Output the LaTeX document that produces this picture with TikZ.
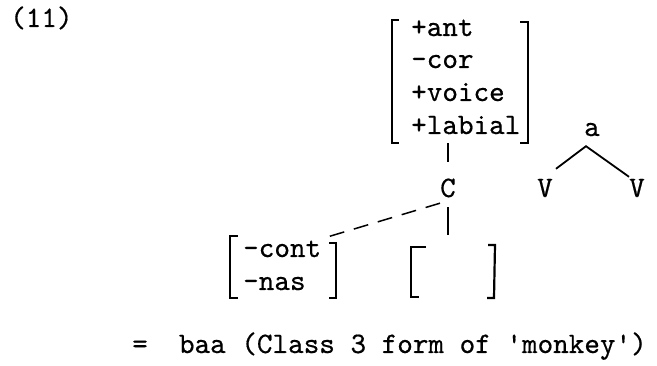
\documentclass[tikz,border=0pt]{standalone}
\usepackage{fontspec}
\newfontfamily\tw{lmmono10-regular}[Extension=.otf, FakeBold=0.5, Ligatures=TeXOff]
\usetikzlibrary{fit}
\begin{document}
\begin{tikzpicture}[x=1pt,y=-1pt,
  txt/.style={inner sep=0pt, font=\tw\fontsize{29.7}{34}\selectfont,
              text height=18pt, text depth=6pt},
  brak/.style={line width=2.2pt, line join=miter},
  branch/.style={line width=1.8pt},
  assoc/.style={line width=1.5pt, dash pattern=on 15pt off 10pt},
  box/.style={inner sep=0pt}]
\fill[white] (0,0) rectangle (657,366);
\useasboundingbox (0,0) rectangle (657,366);

% example number
\node[txt, anchor=base west] (num) at (10,27) {(11)};

% feature matrix of the consonant
\node[txt, anchor=base west] (ant)    at (411,36)  {+ant};
\node[txt, anchor=base west] (cor)    at (411,68)  {-cor};
\node[txt, anchor=base west] (voice)  at (411,101) {+voice};
\node[txt, anchor=base west] (labial) at (411,134) {+labial};
\node[box, fit={(392,20) (528,143)}] (feat) {};
\draw[brak] (399,20) -- (392,20) -- (392,143) -- (399,143);
\draw[brak] (520,22) -- (528,22) -- (528,143) -- (520,143);

% skeleton
\node[txt, anchor=base] (C)  at (448,197) {C};
\node[txt, anchor=base] (a)  at (592,136) {a};
\node[txt, anchor=base] (V1) at (545,197) {V};
\node[txt, anchor=base] (V2) at (637,197) {V};
\coordinate (apex) at ([xshift=-6pt,yshift=-4pt]a.south);

% lower matrices
\node[txt, anchor=base west] (cont) at (243,257) {-cont};
\node[txt, anchor=base west] (nas)  at (243,290) {-nas};
\node[box, fit={(230,236) (336,298)}] (contbox) {};
\draw[brak] (238,236) -- (230,236) -- (230,298) -- (238,298);
\draw[brak] (329,243) -- (336,243) -- (336,298) -- (329,298);

\node[box, fit={(411,245) (495,298)}] (slot) {};
\draw[brak] (426,247) -- (411,247) -- (411,297) -- (419,297);
\draw[brak] (488,245) -- (495,245) -- (494,298) -- (487,298);

% gloss
\node[txt, anchor=base west] (result) at (132,353)
  {=\ \ baa (Class 3 form of 'monkey')};

% association lines
\draw[branch] (feat.south -| C.north) -- ([yshift=17pt]C.north);
\draw[branch] ([yshift=-4pt]C.south) -- ([yshift=10pt]C.south |- slot.north);
\draw[assoc] (C.south west) -- (cont.north east);
\draw[branch] ([xshift=3pt,yshift=10pt]V1.north east) -- (apex)
              -- ([yshift=2pt]V2.north west);
\end{tikzpicture}
\end{document}
